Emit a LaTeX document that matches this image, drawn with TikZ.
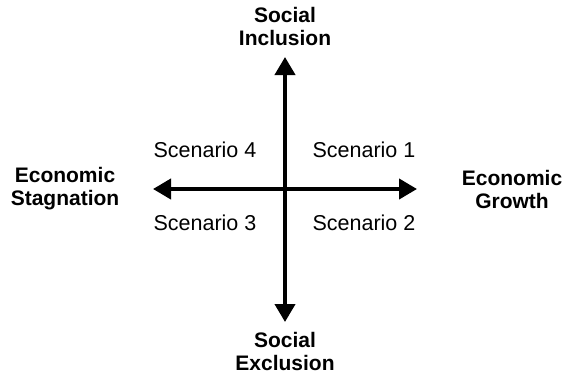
\documentclass[tikz,border=0pt]{standalone}
\usepackage{fontspec}
\setmainfont{Liberation Sans}
\usetikzlibrary{arrows.meta,positioning}

\begin{document}
\begin{tikzpicture}[x=1pt,y=1pt,axis/.style={{Triangle[length=18pt,width=20pt]}-{Triangle[length=18pt,width=20pt]},line width=4pt},pole/.style={align=center,font=\fontsize{21}{23}\selectfont\bfseries},scen/.style={font=\fontsize{21.5}{24}\selectfont}]
\useasboundingbox (0,0) rectangle (564,376);
\coordinate (top) at (285,319);
\coordinate (bot) at (285,54);
\coordinate (lft) at (153,187);
\coordinate (rgt) at (417,187);
\draw[axis] (lft)--(rgt);
\draw[axis] (bot)--(top);
\node[pole] (incl) at (285,350) {Social\\Inclusion};
\node[pole] (excl) at (285,25) {Social\\Exclusion};
\node[pole] (stag) at (65,187) {Economic\\Stagnation};
\node[pole] (grow) at (512,187) {Economic\\Growth};
\node[scen] (s1) at (364,226) {Scenario 1};
\node[scen] (s2) at (364,153) {Scenario 2};
\node[scen] (s3) at (205,153) {Scenario 3};
\node[scen] (s4) at (205,226) {Scenario 4};
\end{tikzpicture}
\end{document}
